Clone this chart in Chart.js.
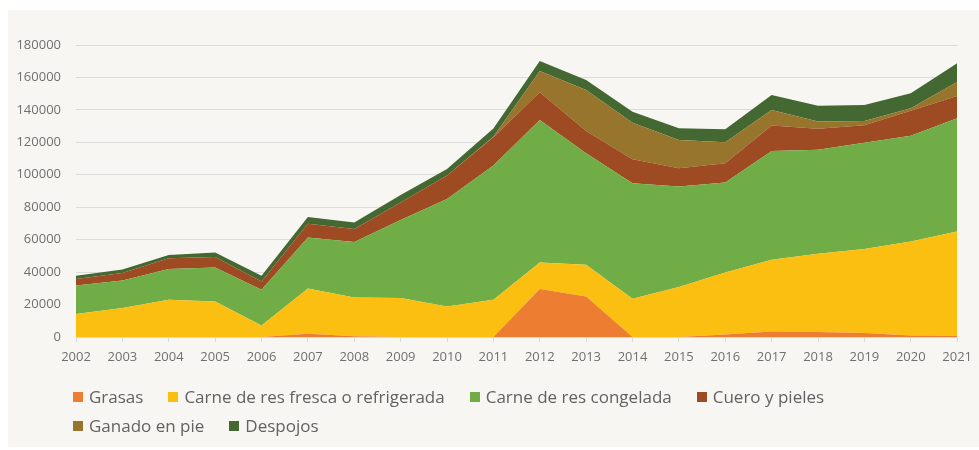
<!DOCTYPE html>
<html>
<head>
<meta charset="utf-8">
<script src="https://cdn.jsdelivr.net/npm/chart.js@4.4.1/dist/chart.umd.min.js"></script>
<style>
  body { margin: 0; background: #ffffff; }
  #wrap { position: relative; width: 979px; height: 450px; }
  #legend {
    position: absolute; left: 73px; top: 382px; width: 840px;
    display: flex; flex-wrap: wrap;
    font-family: "Open Sans", sans-serif; font-size: 17px; color: #626262;
  }
  .item { display: flex; align-items: center; height: 29px; margin-right: 25px; white-space: nowrap; }
  .box { width: 10px; height: 10px; margin-right: 6px; }
</style>
</head>
<body>
<div id="wrap">
  <canvas id="exportChart" width="979" height="450"></canvas>
  <div id="legend"></div>
</div>
<script>
const years = ['2002', '2003', '2004', '2005', '2006', '2007', '2008', '2009', '2010', '2011',
  '2012', '2013', '2014', '2015', '2016', '2017', '2018', '2019', '2020', '2021'];

const grasas = [0, 0, 0, 0, 0, 2000, 500, 0, 0, 0,
  29600, 25000, 0, 0, 1600, 3400, 3100, 2400, 1000, 800];
const carneFresca = [14200, 17900, 23000, 21900, 7100, 27900, 23900, 24000, 18800, 23000,
  16300, 19500, 23600, 30800, 38200, 44200, 48200, 51800, 57900, 64200];
const carneCongelada = [17600, 17000, 18900, 21000, 22000, 31400, 34100, 48200, 66200, 82700,
  87900, 68800, 71200, 61900, 55400, 67100, 64200, 65600, 65200, 69800];
const cuero = [3900, 4500, 6700, 6400, 5100, 8500, 8000, 10700, 14500, 17500,
  17100, 13700, 14800, 11400, 11900, 15600, 12800, 10700, 15400, 13800];
const ganado = [0, 0, 0, 0, 0, 0, 0, 0, 0, 300,
  13100, 25300, 22500, 17400, 13000, 9700, 4500, 2700, 1500, 8600];
const despojos = [2000, 2200, 1900, 2800, 3500, 4100, 4100, 4700, 4100, 5000,
  6100, 6100, 6800, 7200, 8000, 9200, 9800, 9800, 9200, 11500];

const yTicks = [0, 20000, 40000, 60000, 80000, 100000, 120000, 140000, 160000, 180000];

function area(label, data, color, first) {
  return {
    label: label,
    data: data,
    backgroundColor: color,
    borderColor: color,
    borderWidth: 0,
    pointRadius: 0,
    fill: first ? 'origin' : '-1',
    tension: 0
  };
}

// beige panel behind the whole chart
const panel = {
  id: 'panel',
  beforeDraw(chart) {
    const ctx = chart.ctx;
    ctx.save();
    ctx.fillStyle = '#f8f6f2';
    ctx.fillRect(8, 10, chart.width - 8, chart.height - 13);
    ctx.restore();
  }
};

const ctx = document.getElementById('exportChart').getContext('2d');
const chart = new Chart(ctx, {
  type: 'line',
  data: {
    labels: years,
    datasets: [
      area('Grasas', grasas, '#ed7d31', true),
      area('Carne de res fresca o refrigerada', carneFresca, '#fbbf12'),
      area('Carne de res congelada', carneCongelada, '#70ad47'),
      area('Cuero y pieles', cuero, '#9e4a22'),
      area('Ganado en pie', ganado, '#98752c'),
      area('Despojos', despojos, '#436832')
    ]
  },
  options: {
    responsive: false,
    animation: false,
    layout: { padding: { top: 45, right: 18, left: 0, bottom: 0 } },
    plugins: {
      legend: { display: false },
      tooltip: { enabled: false }
    },
    scales: {
      x: {
        offset: false,
        afterFit: (s) => { s.height = 113; },
        grid: { drawOnChartArea: false, drawTicks: true, tickLength: 5, color: '#d9d9d9' },
        border: { display: true, color: '#d9d9d9' },
        ticks: {
          padding: 7, maxRotation: 0, autoSkip: false,
          color: '#707070', font: { family: 'Open Sans', size: 13 }
        }
      },
      y: {
        stacked: true,
        min: 0,
        max: 180000,
        afterFit: (s) => { s.width = 76; },
        afterBuildTicks: (s) => { s.ticks = yTicks.map(v => ({ value: v })); },
        grid: { drawTicks: false, color: '#dcdcdc' },
        border: { display: false },
        ticks: {
          padding: 15,
          color: '#707070', font: { family: 'Open Sans', size: 13 },
          callback: (v) => String(v)
        }
      }
    }
  },
  plugins: [panel]
});

// legend as html, left aligned like the original
const legend = document.getElementById('legend');
chart.data.datasets.forEach(ds => {
  const item = document.createElement('div');
  item.className = 'item';
  const box = document.createElement('span');
  box.className = 'box';
  box.style.background = ds.backgroundColor;
  const txt = document.createElement('span');
  txt.textContent = ds.label;
  item.appendChild(box);
  item.appendChild(txt);
  legend.appendChild(item);
});
</script>
</body>
</html>
